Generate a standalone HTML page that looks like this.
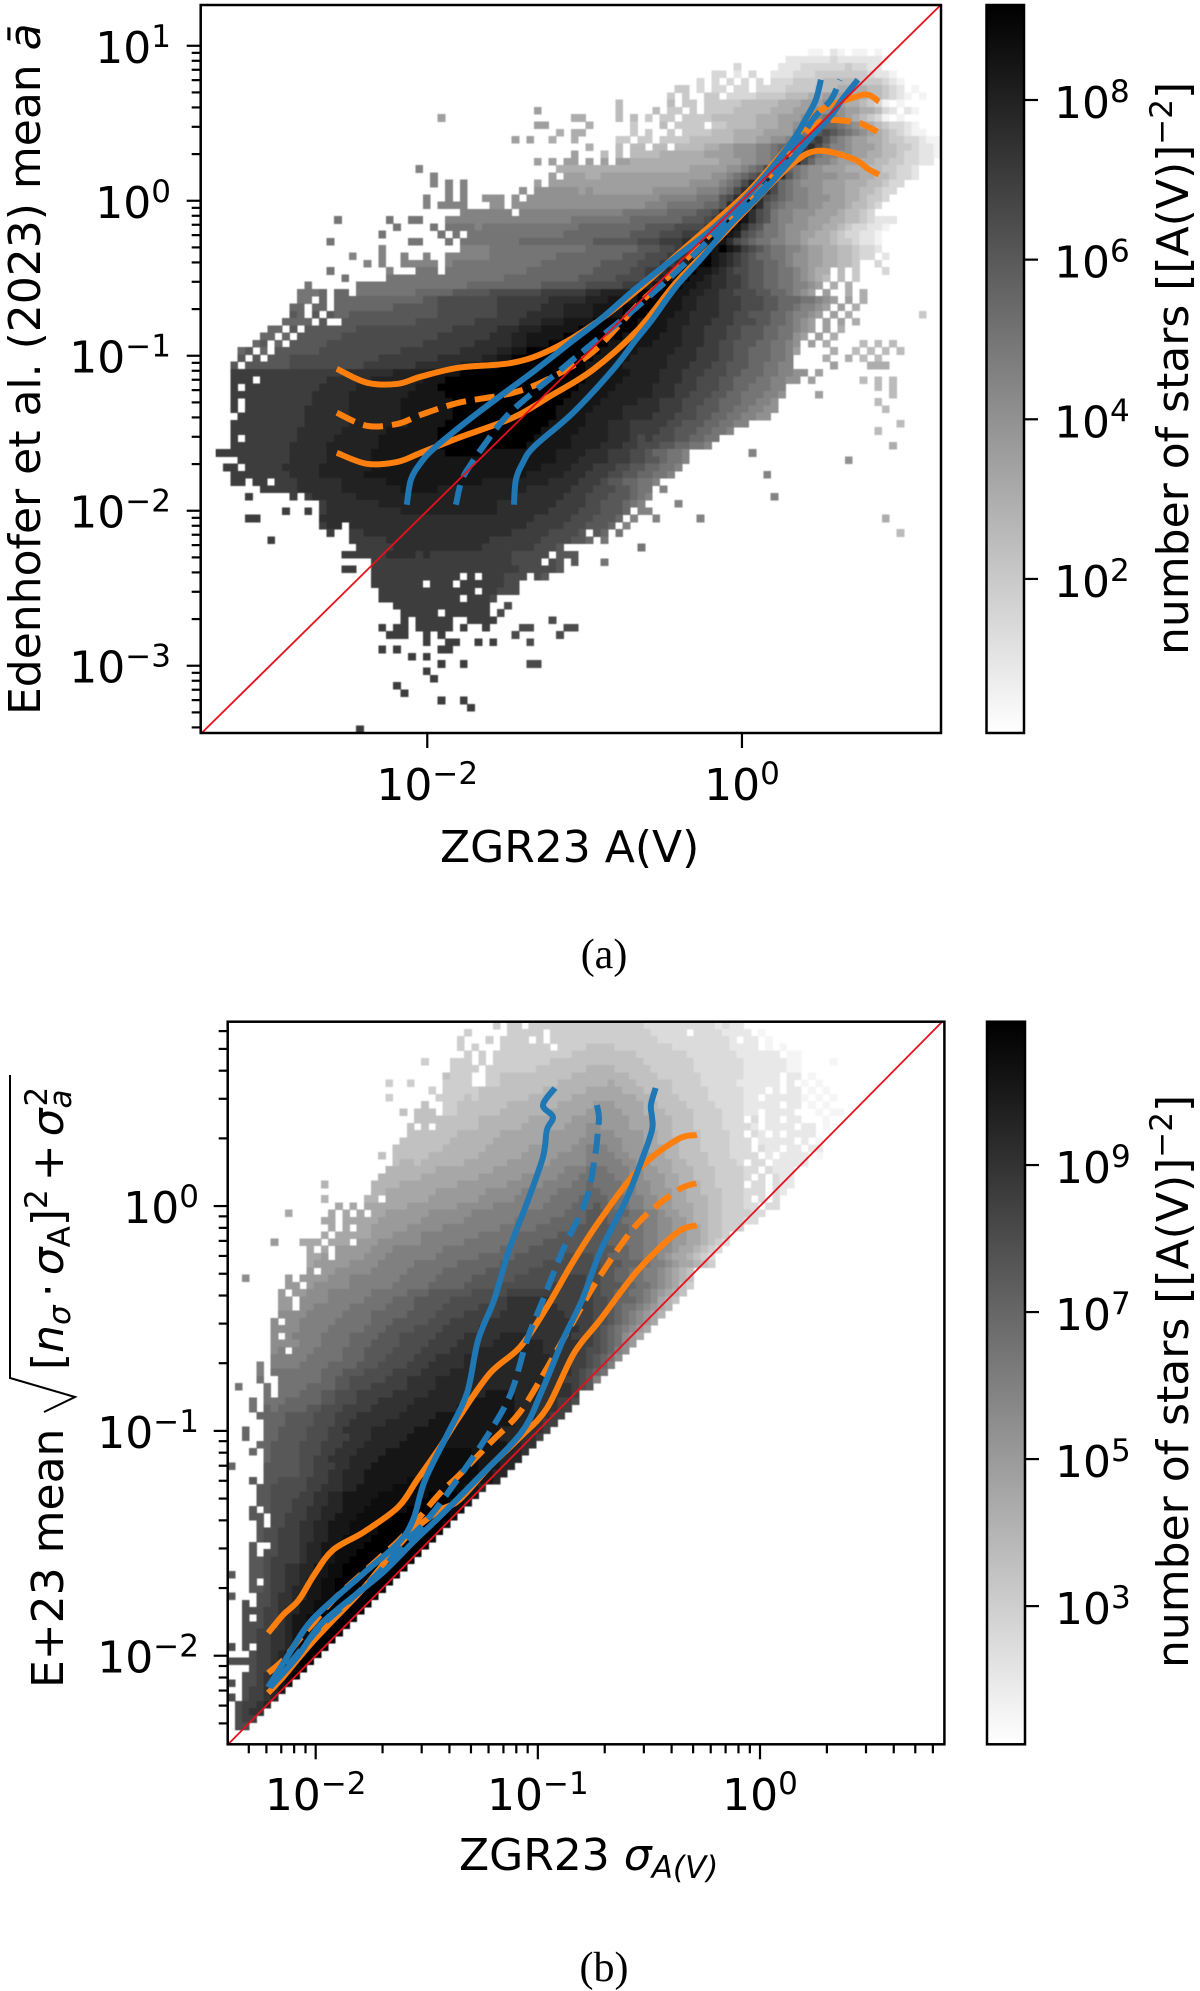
<!DOCTYPE html>
<html lang="en">
<head>
<meta charset="utf-8">
<title>ZGR23 versus Edenhofer et al. (2023) density maps</title>
<style>
html,body{margin:0;padding:0;background:#fff;}
svg{display:block;}
text{font-family:"DejaVu Sans",sans-serif;fill:#000;}
.cap{font-family:"Liberation Serif",serif;font-size:42px;}
</style>
</head>
<body>
<svg id="fig" xmlns="http://www.w3.org/2000/svg" width="1200" height="1991" viewBox="0 0 1200 1991">
<rect x="0" y="0" width="1200" height="1991" fill="#fff"/>
<defs>
<linearGradient id="grayr" x1="0" y1="0" x2="0" y2="1"><stop offset="0" stop-color="#000"/><stop offset="1" stop-color="#fff"/></linearGradient>
<filter id="soft" x="0" y="0" width="100%" height="100%"><feGaussianBlur stdDeviation="0.6"/></filter>
</defs>
<g id="panelA"></g>
<g id="panelB"></g>

<text x="440" y="862" font-size="44">ZGR23 A(V)</text>
<text transform="translate(40,715) rotate(-90)" font-size="44">Edenhofer et al. (2023) mean <tspan font-style="italic">ā</tspan></text>
<text transform="translate(1188,655) rotate(-90)" font-size="44">number of stars [[A(V)]<tspan dy="-16" font-size="31">−2</tspan><tspan dy="16">]</tspan></text>
<text class="cap" x="604" y="968" text-anchor="middle">(a)</text>

<text x="459" y="1870" font-size="44">ZGR23 <tspan font-style="italic">σ</tspan><tspan font-style="italic" font-size="31" dy="8">A(V)</tspan></text>
<g>
<text transform="translate(63,1688) rotate(-90)" font-size="44">E+23 mean</text>
<path d="M44 1412 L75 1397 L10 1378 L10 1075" fill="none" stroke="#000" stroke-width="2"/>
<text transform="translate(63,1370) rotate(-90)" font-size="44">[<tspan font-style="italic">n</tspan><tspan font-style="italic" font-size="31" dy="7">σ</tspan><tspan dy="-7" dx="8">·</tspan><tspan font-style="italic" dx="8">σ</tspan><tspan font-size="31" dy="7">A</tspan><tspan dy="-7">]</tspan><tspan font-size="31" dy="-16">2</tspan><tspan dy="16" dx="8">+</tspan><tspan font-style="italic" dx="8">σ</tspan><tspan font-style="italic" font-size="31" dy="8">a</tspan><tspan font-size="31" dy="-24" dx="-17">2</tspan></text>
</g>
<text transform="translate(1188,1668) rotate(-90)" font-size="44">number of stars [[A(V)]<tspan dy="-16" font-size="31">−2</tspan><tspan dy="16">]</tspan></text>
<text class="cap" x="604" y="1981" text-anchor="middle">(b)</text>
</svg>

<script>
// ---------- Panel (a) axis data (log10 units) ----------
const aXTickExps = [-2, 0];
const aYTickExps = [-3, -2, -1, 0, 1];
const aColorbarTickExps = [2, 4, 6, 8];
const aXLim = [-3.44, 1.265];
const aYLim = [-3.434, 1.263];
const aColorLim = [0.07, 9.19];
const aLevelBase = 0;

// Heatmap (a): [row, startColumn, levels]; level = base-36 digit, half-dex steps of density; '.' = empty bin
const aHeatRows = [
[6,80,"..11.21.11|.1"],
[7,70,".........2|2222232222|221"],
[8,70,"..3.....22|2333333433|22"],
[9,60,".........3|3.2.3..222|3334444444|3221"],
[10,60,".......3.3|.3.3.3.333|4444555554|44321"],
[11,60,"....44.3.3|3.33.33334|4445556666|55432.1"],
[12,60,"...4.4..44|.333344445|5566777766|554321.1"],
[13,50,"......5...|...5.44.44|4445555566|6777877665|431.1"],
[14,40,".....7....|......5...|.5.44.4.44|4455555666|7778888776|6532.21"],
[15,30,"..7.......|..........|66....5.5.|4.44.44445|5555566677|7889a98765|431.1"],
[16,40,".....77...|..6.....4.|..5.4444.4|4555566677|8aabbba987|6543321"],
[17,40,"........6.|66......4.|4..4.44445|5566667777|9abcdcba98|76543211"],
[18,40,"..7.7..6..|6.....44.4|4.44445555|5566677889|abdeca9877|6654433211"],
[19,50,"..6...5.55|.55.555566|7788899abc|defdb99877|7655443221"],
[20,50,"7...5.5.55|5566666677|7788899abd|feca998877|6655433221"],
[21,40,".....7.7.7|7.7.7.7766|6666666666|7778899acf|gdb9987776|655443322."],
[22,20,".........9|..........|........66|6666666666|6666667777|7889abdgeb|a988777666|5544332"],
[23,30,".9........|.......7.7|7766777777|7777777778|89abcdfhfc|a988887776|6554332"],
[24,30,".9.9.9....|.....7.777|7777777777|7777778888|9abdfhgdba|9888777666|55433"],
[25,30,"...9.9....|...8.88888|8787777777|7888888999|abdfhhfdba|9988777665|5433"],
[26,30,"9..9.9..88|8.8.888888|8888888888|8899999aaa|cdfhifdcba|9988877665|443"],
[27,30,"9.9999...8|8.88888888|8888888888|999aaaaabb|cfhihfcba9|9988777655|43"],
[28,30,".....99999|99.9999999|9999999aaa|aaabbbbccd|fhihfdca99|8887776554|3"],
[29,10,"........a.|.....a..aa|...9999999|9999999999|aaaaaaaabb|bbbbbcccde|fhihfdca99|8877766554|3222"],
[30,20,"......a...|.a.aaaa9aa|aaaaaaaaaa|abbbbbbbbb|ccccddddef|hihfdcaa98|8877665433|221"],
[31,20,"....a.....|..a.a.aaaa|aaaaaaaaab|bbbbbbbbcc|ccdddeeefh|ihgdcbaa98|8776654332|21"],
[32,10,".......a..|........aa|...a.aaaaa|aaabbbbbbb|bbbccccccd|ddeeeffghi|hfdcbaa998|8766654432|21"],
[33,20,"....9.....|.....9999a|aaaaaaaaaa|aabbbbbbbc|ccddeeefgh|ihgedcbaa9|9877665543|32"],
[34,20,"9...9..9..|9..999999a|aaaaaaaabb|bbbbbbbccc|dddeefghih|gfedcbbaa9|8877665543|3.2"],
[35,20,"..9.9..999|99.9aaaaaa|aaaaaabbbb|bbbbcccccd|ddeefghiih|gfedccbba9|887766554.|.3"],
[36,10,".......a..|.....9...a|aa.aaaaaaa|aaaabbbbbb|bbbcccccdd|eefghiihhg|feddccbbaa|98766.5.4.|..3"],
[37,10,".........a|.....aaaaa|aaaaaaaaaa|abbbbbbbbb|bcccccdddd|efghiihhgf|feedccbbaa|98765.5.4."],
[38,10,"....a.....|.aaaaaaaaa|aaaaaabbbb|bbbbbbcccc|ccdddddeef|ghiiihhggf|feedccbbaa|9987.6.6"],
[39,10,"...aaab.bb|.aaaaaaaab|bbbbcccccd|ddddddeeee|eeffgggghi|iiihhhggff|eedddccbba|987.7..6.6"],
[40,10,"...aa.b.bb|bbbbbbbbbb|ccdddddddd|eeeeeeefff|ffggghhhhi|iiihhggfff|eeedddccbb|baa987.7.6"],
[41,10,"..bb.bb.bb|bbbbbbcccc|ccdddddddd|eeeeeefffg|ggghhhhiii|iihhhggfff|eeedddccbb|a9987.7.6"],
[42,10,"..cb.c.cbb|cccccccccc|ccdddddddd|eeeefffffg|ggghhhhiii|ihhhggffff|eeddcccbba|9987.7.6..|.......4"],
[43,10,".bbbb.c..c|cccccccccd|dddddddeee|eeefffgggh|hhhiiiiiih|hhhgggfffe|eedddccbba|987.7.7.6"],
[44,0,".........b|b.c.cccccc|cddddddddd|ddddeeeeee|fffggghhhh|hiiiiiiiih|hhhggfffee|eddcccbbaa|987.7.6"],
[45,0,"........bb|.b.ccccccd|dddddddddd|ddeeeeeeef|ffgghhhhhi|iiiiiiihhh|hhgggfffee|eddcccbbaa|87.7.6"],
[46,0,".......bc.|b.cccccddd|dddddddddd|eeeeeeefff|ffgghhhiii|iiiiihhhhh|hggggfffee|ddcccbbaa9|8.7.6....5|.5.5"],
[47,0,".....bc.b.|ccccccdddd|dddddddeee|eeeeefffff|gghhiiiiii|iiiihhhhhg|ggggfffeee|ddccbbbaa9|7....6..5.|5.5.5"],
[48,0,".....c.c.c|ccdddddddd|ddddeeeeee|eeffffffgg|hhiiiiiiii|iiihhhhhgg|gggffffeee|ddccbbbaa9|....6..6.5|.5"],
[49,0,"....c.cccc|ccdddddddd|ddeeeeeeef|fffffggghh|iiiiiiiiii|iihhhhhggg|gggfffeeed|dcccbbaa99|.....7....|666"],
[50,0,"....eeeeee|eeeeeeeeef|ffffffgggg|ghhhhiiiii|iiiiiiiiii|iihhhhhhgg|ggfffeeedd|dccbbbaa99|88.7"],
[51,0,"....eee.ee|eeeeeeefff|fffggggggg|hhhiiiiiii|iiiiiiiiii|iihhhhhggg|ggfffeeddd|ccbbbaa998|8.7......5|.5.5"],
[52,0,"....e.eeee|eeeeeeffff|fggggggggh|hhiiiiiiii|iiiiiiiiii|ihhhhhgggg|gfffeeeddd|ccbbaaa99.|..........|.5.5"],
[53,0,"....eeeeee|eeeeefffff|gggggggghh|hhhiiiiiii|iiiiiiiiii|hhhhhggggg|gfffeedddc|cbbaaa998.|...7......|...5"],
[54,0,"....e.eeee|eeeeefffff|ggggggghhh|hhhhiiiiii|iiiiiiiiih|hhhhgggggf|ffeeedddcc|bbbaa998..|..........|.5"],
[55,0,"....e.eeee|eeeeffffff|ggggggghhh|hhhhiiiiii|iiiiiiiihh|hhhggggfff|ffeeeddccc|bbaa9988..|..........|..5"],
[56,0,".....eeeee|eeeeffffff|ggggggghhh|hhhhiiiiii|iiiiiiiihh|hhgggggfff|feeedddccb|baa9988"],
[57,0,"....eeeeee|eeeeffffff|gggggggghh|hhhiiiiiii|iiiiiiihhh|hhgggfffee|eeeddcccbb|aa99......|..........|....5"],
[58,0,"....eeeeee|eeeffffffg|ggggghhhhh|hhiiiiiiii|iiiiiihhhh|hggggfffee|eeddcccbba|a9........|..........|.5"],
[59,0,"....e.eeee|eeefffffgg|gggghhhhhh|hhiiiiiiii|iiiiihhhhh|gggggfffed|edddccbbaa"],
[60,0,"....eeeeee|eefffffggg|gggghhhhhh|hhiiiiiiii|iiiihhhhhh|ggggfffeed|ddccbbaa9.|..........|..........|...6"],
[61,0,"..eeeeeeee|eefffffggg|ggghhhhhhh|hhhiiiiihh|hhhhhhhhgg|ggfffeeedd|cbbaa9....|....9"],
[62,0,".....eeeee|eefffffggg|ggghhhhhhh|hhhhhhhhhh|hhhhhhhhgg|gffffeeedd|ccbaa9....|..........|.......8"],
[63,0,"...ee.eeee|efffffgggg|ggghhhhhhh|hhhhhhhhhh|hhhhhhgggg|fffeeeddcc|bbaa9"],
[64,0,"....eeeeee|eeffffgggg|gghhhhhhhh|hhhhhhhhhh|hhhhgggggf|ffeeeddccb|baa9......|......9"],
[65,0,"....ee.ee.|eeeffffffg|ggggghhhhh|hhhhhhhhgg|gggggggfff|feeedccbba|a9"],
[66,0,"........ee|eeeffffffg|ggggggghhh|hhgggggggg|ggggffffff|eeedddccba|a.9"],
[67,0,"......e...|..e.efffff|fggggggggg|gggggggggg|ggfffffffe|eedddcccba|9.........|.......9"],
[68,10,"......efff|ffffgggggg|gggggggggg|ffffffffee|eeddcccba9|....9"],
[69,10,".e..e.efff|fffffffggg|gggggggggg|fffffffeee|edddcccb.9|9"],
[70,0,"......ee..|......ffff|ffffffffff|ffffffffff|fffffeeeee|dddcccb.9.|.9.....9..|..........|..........|..6"],
[71,10,"......eff.|ffffffffff|ffffffffff|ffffeeeeed|ddcccb.9"],
[72,10,".......e..|eeffffffff|ffffffffff|ffeeeeeddd|dc.cb.a...|..........|..........|..........|....5"],
[73,0,".........e|..........|eeeeefffff|fffffffffe|eeeeeedddd|ccb.a"],
[74,20,".eeeeeffff|ffffffffee|eeeeedddc.|.........a"],
[75,10,".........e|eeeeeffffe|feeeeeeeee|eeddddd.cc|c"],
[76,20,"...eeeeeee|eeeeeeeeee|eedddd.dc.|c...a"],
[77,10,".........e|e..eeeeeee|eeeeeeeeee|eeedddddc"],
[78,20,"...eeeeeee|eeeee.e.ee|eddd.dc"],
[79,20,"...eeeeeee|.eee.eeeee|edd"],
[80,20,"....eeeeee|eeeeeee.ee|ddd"],
[81,20,"....eeeeee|eeeee.eeed"],
[82,20,"......eeee|eeeeeeeee.|.d"],
[83,20,".......eee|ee.eeeeee.|d"],
[84,20,".......e.e|eeee..eeee|.......d"],
[85,20,"....e.ee.e|eeee.e..e.|...dd....d|d"],
[86,20,".....eee..|e.e.......|..d.....d"],
[87,30,"e..ee..e.e|....d"],
[88,20,"....e.e...|..ee"],
[89,20,"........e.|e"],
[90,30,"..e..e....|....dd"],
[91,30,"e"],
[92,30,".e"],
[93,20,"......e"],
[94,20,".......e"],
[95,30,"..e..e"],
[96,30,"......e"],
[99,20,".e"]
];

// Orange curves (a): binned in x, log10 values
const aOrangeX = [-2.575,-2.384,-2.187,-2.041,-1.799,-1.456,-1.214,-0.947,-0.661,-0.420,-0.172,0.070,0.312,0.483,0.706,0.801,0.871];
const aOrangeUpper = [-1.084,-1.174,-1.181,-1.135,-1.077,-1.045,-0.961,-0.800,-0.574,-0.355,-0.135,0.090,0.374,0.574,0.665,0.684,0.639];
const aOrangeMedian = [-1.368,-1.452,-1.439,-1.381,-1.303,-1.239,-1.142,-0.974,-0.671,-0.445,-0.187,0.026,0.316,0.503,0.510,0.477,0.439];
const aOrangeLower = [-1.626,-1.697,-1.684,-1.626,-1.529,-1.400,-1.258,-1.090,-0.832,-0.529,-0.271,-0.013,0.232,0.323,0.271,0.206,0.168];
// Blue curves (a): binned in y, log10 values
const aBlueY = [-1.961,-1.800,-1.690,-1.587,-1.368,-1.090,-0.897,-0.768,-0.555,-0.361,-0.168,0.071,0.374,0.542,0.652,0.781];
const aBlueLeft = [-2.130,-2.104,-2.041,-1.945,-1.678,-1.310,-1.068,-0.903,-0.661,-0.416,-0.172,0.070,0.312,0.413,0.470,0.502];
const aBlueMedian = [-1.818,-1.780,-1.716,-1.646,-1.475,-1.151,-0.922,-0.763,-0.521,-0.318,-0.127,0.127,0.350,0.464,0.566,0.623];
const aBlueRight = [-1.449,-1.437,-1.392,-1.322,-1.074,-0.820,-0.674,-0.572,-0.420,-0.248,-0.089,0.146,0.407,0.559,0.636,0.737];

// ---------- Panel (b) axis data (log10 units) ----------
const bXTickExps = [-2, -1, 0];
const bYTickExps = [-2, -1, 0];
const bColorbarTickExps = [3, 5, 7, 9];
const bXLim = [-2.396, 0.83];
const bYLim = [-2.394, 0.82];
const bColorLim = [1.12, 10.95];
const bLevelBase = 1;

const bHeatRows = [
[0,30,".......4.4|4.44444444|4444444433|3333333323|22"],
[1,30,"...4.....4|4444.44444|4444444443|3333.33332|222.1"],
[2,30,"..4...4.44|44.4.44444|4444444444|3333333333|2.22.1"],
[3,30,"..4.4...44|44444.4444|5555444444|4433333333|2222.1.1"],
[4,30,"...4.4.444|4444444455|5555555444|4444333333|3222222.11"],
[5,20,".......4..|.444.4.444|4444455555|5555555544|4444433333|3322222211|....1"],
[6,30,".4444.4444|4445555555|6666555554|4444433333|3322222211"],
[7,30,"5444..4455|5555555566|6666665555|4444443333|3322222.22|.1"],
[8,20,"..4..4....|4444..4455|5555556666|6667666555|5544443333|3222222.2.|1.1"],
[9,20,"........4.|4444455555|5555666666|7777766655|5544444333|33222.2.22|.1.1"],
[10,20,"..4......4|4445455555|5566666677|7777777665|5554444333|3322.22222|1.1.1"],
[11,20,".......5..|4455555556|6666667777|7888777766|5555444433|3322222.22|.1.1"],
[12,20,"....5.555.|4455555566|6666677777|8888877766|6555544443|3322.2222.|..1.11"],
[13,20,"......5555|5555566666|6677777788|8888887776|6655544443|33.3.22.22|...1"],
[14,20,".....5.5.5|5555566666|6777777888|9988887776|6655544443|3332.2222.|22.1"],
[15,20,".....55555|5566666677|7777788888|9999888877|6655554444|33.32.2.22|22"],
[16,20,"....555555|5666666777|7777888889|9999988877|6665554444|333.22222.|2.1"],
[17,20,"...5555555|6666667777|7788888899|aaa9988877|7665554444|333.322.22|.22"],
[18,20,".5.5555566|6666677777|7888889999|aaaa998887|7665555444|3333.2.222|2.1"],
[19,20,"...5665666|6667777778|8888899999|aaaaa99887|7766555444|43.33.2222|2"],
[20,20,"..66666667|7777777888|8889999aaa|bbbaaa9988|7766655544|4433.3222"],
[21,20,".666666777|7777788888|899999aaab|bbbbaa9988|8776655544|443.3.322"],
[22,10,"...6......|6666777777|7788888889|9999aaaabb|cbbbbaa998|8776665544|44.33.322"],
[23,20,"6677777778|8888889999|9aaaaabbbb|ccbbbaa998|8877665554|44333.32"],
[24,10,"...6.....6|6.77777788|8888899999|aaaaabbbbc|cccbbbaa99|8877666554|443.3.3"],
[25,10,".....7.7.7|7777788888|8899999aaa|aaaabbbbcc|cdccbbaa99|8877766554|4433.33"],
[26,0,"........7.|....7.7.7.|7788888899|9999aaaaaa|abbbbbbccc|dddcccbbaa|9887766554|44433"],
[27,10,"...77.7777|7888888999|999aaaaaaa|bbbbbccccc|dddccbbbaa|9988766554|4433"],
[28,10,"....7.7.77|8888899999|aaaaaaaabb|bbbcccccdd|ddddccbbaa|9988776554|44"],
[29,10,"...7.77777|8889999aaa|aaaaabbbbb|ccccccdddd|dddcccbbaa|9988776554"],
[30,0,"......8...|777.777.88|8999999aaa|aaabbbbbbb|ccccdddddd|dddccbbbaa|9988776543"],
[31,10,".7.7.88888|999aaaaaaa|bbbbbbbbcc|ccdddddddd|ddddccbbaa|998776543"],
[32,10,".778.88889|99aaaaaaab|bbbbbccccc|dddddddeee|eddcccbbaa|98776543"],
[33,10,".788888999|9aaaaabbbb|bbccccccdd|ddddeeeeee|eedddcccba|a9877654"],
[34,10,".8.8899999|aaaaabbbbb|ccccccdddd|ddeeeeeeee|eeddccbbaa|98765"],
[35,0,"..9.....8.|8888999aaa|aaaabbbbbc|ccccdddddd|eeeeeeefff|eeddccbbaa|98765"],
[36,0,"........88|.899999aaa|aaabbbbbcc|cccdddddee|eeeeefffff|eedddccbba|98754"],
[37,0,".......8.8|8999aaaaaa|bbbbbcccdd|ddddeeeeef|ffffffffff|feddccbba9|8765"],
[38,0,".......88.|9999aaaaab|bbbcccdddd|deeeeeeffg|gggggfffff|feedcccba9|765"],
[39,0,".......88.|99aaaaabbb|bbccccdddd|eeeeeffffg|ggggggffff|feedcbba98|76"],
[40,0,".......999|9aaaaabbbb|cccccdddde|eeefffffgg|gggggggfff|feedcba987|6"],
[41,0,"......9.99|aaaaabbbbb|cccdddddee|efffffgggg|ggggggggff|feedcba987"],
[42,0,"......9999|aaaabbbbbc|ccddddeeee|fffffggggg|gggggggggf|fedcba987"],
[43,0,"......9.9a|aaabbbbccc|cdddeeeeef|fffggggghh|hhggggggff|fedcb987"],
[44,0,"......9999|aaabbbbccc|ddddeeeeff|ffggggghhh|hhhhgggggf|fedcb98"],
[45,0,"......9a.a|aabbbbcccd|dddeeeefff|fgggghhhhh|hhhhgggggf|eedca9"],
[46,0,"......aaaa|abbbbbcccd|ddeeeefffg|ggghhhhhhh|hhhhhgggff|edcb9"],
[47,0,"....a.aaaa|bbbbccccdd|deeeefffgg|ggghhhhhhh|hhhhhgggff|edca"],
[48,0,"....a.bbbb|bbbcccddde|eeeffffggg|ghhhhhhhhh|hhhhggggfe|dcb"],
[49,0,"....b..bbb|bbbccddeee|eefffggggh|hhhhhhhhhh|hhhhgggffe|da"],
[50,0,".b...b.bbb|bccccddeee|fffffggggh|hhhhhhhhhh|hhhhggggfe|d"],
[51,0,".....b.bbb|cccddeeeff|fffggggghh|hhhhhhiiii|hhhhggggf"],
[52,0,"...b.bbbcc|cccddeeeff|fggggghhhh|hhhhiiiiii|hhhgggffe"],
[53,0,"...b.cbccc|cddeeeffff|ggggghhhhh|hhiiiiiiii|hhhgggff"],
[54,0,"....ccccdd|ddeeefffgg|gggghhhhhi|iiiiiiiiii|hhhggff"],
[55,0,".....cccdd|ddeeeffggg|gghhhhhhii|iiiiiiiiii|hhhgff"],
[56,0,"..c..ccddd|deeeffgggg|hhhhhhiiii|iiiiiiiihh|hhggf"],
[57,0,"..c..ccddd|deeefffggg|hhhhhiiiii|iiiiiiiihh|hggf"],
[58,0,"....ccdddd|eeefffgggh|hhhhiiiiii|iiiiiiiiih|hgg"],
[59,0,"...c.cdddd|eeeffggghh|hhiiiiiiii|jjjjiiiiih|hg"],
[60,0,".....cdddd|eeffggghhh|hiiiiiiiij|jjjjjiiihh|h"],
[61,0,"c....ddddd|eefffgghhh|iiiiiiiijj|jjjjjiiihh"],
[62,0,".....ddddd|eeffgghhhi|iiiiiiijjj|jjjjjiihh"],
[63,0,"...d.ddeee|efffgghhhi|iiiiijjjjj|jjjjiiih"],
[64,0,"....ddeeee|effggghhii|iiijjjjjjj|jjjiih"],
[65,0,"....ddeeee|ffgghhiiii|ijjjjjjjkk|kkjii"],
[66,0,"....ddeeef|ffgghhiiii|jjjjjjjkkk|kjji"],
[67,0,"...d.deeef|fgghhhiiij|jjjjjkkkkk|kjj"],
[68,0,"...dd.eeff|fgghhiiijj|jjjkkkkkkk|kj"],
[69,0,"....d.eeff|gghhiiijjj|jkkkkkkkkk|j"],
[70,0,"....deefff|gghhiiijjj|jkkkkkkkkk"],
[71,0,"....deefff|gghhiijjjj|kkkkkkkkk"],
[72,0,"...d..efff|ghhiiijjjk|kkkkkkkk"],
[73,0,"...d.eefff|ghhiijjjkk|kkkkkkk"],
[74,0,"...ddeffff|ghhiijjkkk|kkkkkk"],
[75,0,"...ddeffgg|hhiijjkkkk|kkkkk"],
[76,0,"d..ddeffgg|hhiijjkkkk|kkkk"],
[77,0,"...d.effgg|hiijjkkkkk|kkk"],
[78,0,"...ddeffgh|hiijjkkkkk|kk"],
[79,0,"d...eefggh|hiijjkkkkk|k"],
[80,0,"..e.eefggh|iijjkkkkkk"],
[81,0,"..eeeffghh|iijjkkkkk"],
[82,0,"..e.effghi|ijjkkkkk"],
[83,0,"..eeeffghi|ijjkkkk"],
[84,0,"..eeffgghi|ijkkkk"],
[85,0,"..eeffgghi|jjkkk"],
[86,0,"e.e.ffgghi|jkkk"],
[87,0,"...effghij|jkk"],
[88,0,"eeeeffghij|kk"],
[89,0,"...effghij|k"],
[90,0,"..eefghijk"],
[91,0,"e.eefghij"],
[92,0,"..effghi"],
[93,0,"e.effgh"],
[94,0,".effgh"],
[95,0,".efgg"],
[96,0,".eff"],
[97,0,".ee"]
];

const bOrangeX = [-2.214,-2.147,-2.077,-2.007,-1.922,-1.784,-1.629,-1.544,-1.440,-1.355,-1.215,-1.080,-0.959,-0.837,-0.720,-0.549,-0.376,-0.284];
const bOrangeUpper = [-1.899,-1.819,-1.753,-1.641,-1.530,-1.450,-1.339,-1.219,-1.072,-0.939,-0.743,-0.627,-0.449,-0.240,-0.062,0.160,0.294,0.316];
const bOrangeMedian = [-2.077,-2.020,-1.931,-1.851,-1.753,-1.628,-1.490,-1.397,-1.277,-1.197,-1.054,-0.916,-0.721,-0.507,-0.311,-0.076,0.067,0.102];
const bOrangeLower = [-2.166,-2.095,-2.011,-1.931,-1.842,-1.699,-1.512,-1.428,-1.352,-1.308,-1.157,-1.028,-0.899,-0.654,-0.507,-0.285,-0.120,-0.085];
const bBlueY = [0.525,0.449,0.396,0.338,0.218,0.027,-0.196,-0.418,-0.596,-0.832,-1.010,-1.219,-1.397,-1.499,-1.633,-1.784,-1.873,-2.006,-2.140];
const bBlueLeft = [-0.923,-0.977,-0.932,-0.959,-0.977,-1.044,-1.130,-1.197,-1.269,-1.319,-1.404,-1.508,-1.562,-1.629,-1.784,-1.958,-2.043,-2.129,-2.214];
const bBlueMedianY = [0.449,0.396,0.338,0.218,0.027,-0.196,-0.418,-0.596,-0.832,-1.010,-1.219,-1.397,-1.499,-1.633,-1.784,-1.873,-2.006,-2.140];
const bBlueMedian = [-0.734,-0.725,-0.729,-0.743,-0.783,-0.887,-0.977,-1.049,-1.121,-1.220,-1.364,-1.499,-1.602,-1.719,-1.881,-1.980,-2.093,-2.205];
const bBlueRight = [-0.470,-0.491,-0.486,-0.486,-0.527,-0.603,-0.716,-0.801,-0.887,-0.986,-1.076,-1.278,-1.458,-1.566,-1.701,-1.890,-1.989,-2.084,-2.205];

const minorMultiples = [2,3,4,5,6,7,8,9];
const NS = 'http://www.w3.org/2000/svg';
const ORANGE = '#ff7f0e', BLUE = '#1f77b4', RED = '#e8101c';

function mk(parent, tag, attrs){
  const el = document.createElementNS(NS, tag);
  for (const k in attrs) el.setAttribute(k, attrs[k]);
  parent.appendChild(el);
  return el;
}
function smoothPath(px, py){
  let d = 'M'+px[0].toFixed(1)+' '+py[0].toFixed(1);
  for (let i=0;i<px.length-1;i++){
    const i0=Math.max(0,i-1), i3=Math.min(px.length-1,i+2);
    const c1x=px[i]+(px[i+1]-px[i0])/6, c1y=py[i]+(py[i+1]-py[i0])/6;
    const c2x=px[i+1]-(px[i3]-px[i])/6, c2y=py[i+1]-(py[i3]-py[i])/6;
    d+=' C'+c1x.toFixed(1)+' '+c1y.toFixed(1)+' '+c2x.toFixed(1)+' '+c2y.toFixed(1)+' '+px[i+1].toFixed(1)+' '+py[i+1].toFixed(1);
  }
  return d;
}
function lineMark(parent, xs, ys, sx, sy, color, dashed, name){
  const el = mk(parent,'path',{d:smoothPath(xs.map(sx),ys.map(sy)),fill:'none',stroke:color,'stroke-width':6,'stroke-linejoin':'round'});
  if (dashed) el.setAttribute('stroke-dasharray','20 9');
  
  
  return el;
}
function expLabel(parent, x, y, anchor, exp, name){
  const t = mk(parent,'text',{x:x,y:y,'text-anchor':anchor,'font-size':44});
  t.appendChild(document.createTextNode('10'));
  const s = mk(t,'tspan',{dy:-16,'font-size':31});
  s.textContent = String(exp).replace('-','\u2212');
  
  
  return t;
}

function drawPanel(p){
  const root = document.getElementById(p.id);
  const L=p.box[0], T=p.box[1], R=p.box[2], B=p.box[3];
  const sx = v => L + (v-p.xLim[0])/(p.xLim[1]-p.xLim[0])*(R-L);
  const sy = v => B - (v-p.yLim[0])/(p.yLim[1]-p.yLim[0])*(B-T);
  const cw=(R-L)/100, ch=(B-T)/100;
  const span=p.cLim[1]-p.cLim[0];

  const heat = mk(root,'g',{'shape-rendering':'crispEdges',filter:'url(#soft)'});
  
  
  p.rows.forEach(rowSpec=>{
    const levels = rowSpec[2].replace(/\|/g,'');
    for (let i=0;i<levels.length;i++){
      const c = levels[i];
      if (c==='.') continue;
      const col = rowSpec[1]+i;
      const logD = p.base + parseInt(c,36)*0.5;
      const d = Math.max(0,Math.min(1,(logD-p.cLim[0])/span));
      const g = Math.round(255*(1-d));
      const x0 = sx(p.xLim[0]+(col/100)*(p.xLim[1]-p.xLim[0]));
      const y0 = T+rowSpec[0]*ch;
      const cell = mk(heat,'rect',{x:x0.toFixed(2),y:y0.toFixed(2),width:(cw+0.4).toFixed(2),height:(ch+0.4).toFixed(2),fill:'rgb('+g+','+g+','+g+')'});
      
      
    }
  });

  p.series.forEach(s=>{
    lineMark(root, s.x, s.y, sx, sy, s.color, s.dashed, p.tag+'-'+s.name);
  });

  const ref = mk(root,'line',{x1:sx(Math.max(p.xLim[0],p.yLim[0])),y1:sy(Math.max(p.xLim[0],p.yLim[0])),x2:sx(Math.min(p.xLim[1],p.yLim[1])),y2:sy(Math.min(p.xLim[1],p.yLim[1])),stroke:RED,'stroke-width':1.8});
  
  

  const frame = mk(root,'rect',{x:L,y:T,width:R-L,height:B-T,fill:'none',stroke:'#000','stroke-width':2.5});
  
  

  const ticks = mk(root,'g',{stroke:'#000','stroke-width':2.2});
  
  
  p.xTicks.forEach(e=>{
    const tick = mk(ticks,'line',{x1:sx(e),x2:sx(e),y1:B,y2:B+15});
    
    
    expLabel(root, sx(e), p.xLabelY, 'middle', e, p.tag+'-x-tick-label');
  });
  p.yTicks.forEach(e=>{
    const tick = mk(ticks,'line',{x1:L-14,x2:L,y1:sy(e),y2:sy(e)});
    
    
    expLabel(root, p.yLabelX, sy(e)+17, 'end', e, p.tag+'-y-tick-label');
  });
  p.xMinorDecades.forEach(dec=>minorMultiples.forEach(m=>{
    const v=dec+Math.log10(m);
    if (v<p.xLim[0]||v>p.xLim[1]) return;
    const tick = mk(ticks,'line',{x1:sx(v),x2:sx(v),y1:B,y2:B+9});
    
    
  }));
  p.yMinorDecades.forEach(dec=>minorMultiples.forEach(m=>{
    const v=dec+Math.log10(m);
    if (v<p.yLim[0]||v>p.yLim[1]) return;
    const tick = mk(ticks,'line',{x1:L-9,x2:L,y1:sy(v),y2:sy(v)});
    
    
  }));

  const cb=p.cbar;
  const cbar = mk(root,'rect',{x:cb[0],y:T,width:cb[1]-cb[0],height:B-T,fill:'url(#grayr)',stroke:'#000','stroke-width':2.5});
  
  
  const cy = v => B-(v-p.cLim[0])/span*(B-T);
  p.cTicks.forEach(e=>{
    const tick = mk(root,'line',{x1:cb[1],x2:cb[1]+14,y1:cy(e),y2:cy(e),stroke:'#000','stroke-width':2.2});
    
    
    expLabel(root, cb[1]+30, cy(e)+18, 'start', e, p.tag+'-colorbar-tick-label');
  });
}

drawPanel({
  id:'panelA',tag:'panel-a',box:[200.7,5,941,733],xLim:aXLim,yLim:aYLim,cLim:aColorLim,base:aLevelBase,rows:aHeatRows,
  xTicks:aXTickExps,yTicks:aYTickExps,cTicks:aColorbarTickExps,xMinorDecades:[],yMinorDecades:[-4,-3,-2,-1,0,1],
  xLabelY:800,yLabelX:171,cbar:[986.5,1024],
  series:[
    {name:'orange-upper',x:aOrangeX,y:aOrangeUpper,color:ORANGE},
    {name:'orange-median',x:aOrangeX,y:aOrangeMedian,color:ORANGE,dashed:true},
    {name:'orange-lower',x:aOrangeX,y:aOrangeLower,color:ORANGE},
    {name:'blue-left',x:aBlueLeft,y:aBlueY,color:BLUE},
    {name:'blue-median',x:aBlueMedian,y:aBlueY,color:BLUE,dashed:true},
    {name:'blue-right',x:aBlueRight,y:aBlueY,color:BLUE}
  ]
});
drawPanel({
  id:'panelB',tag:'panel-b',box:[227.7,1021.7,944.4,1744.3],xLim:bXLim,yLim:bYLim,cLim:bColorLim,base:bLevelBase,rows:bHeatRows,
  xTicks:bXTickExps,yTicks:bYTickExps,cTicks:bColorbarTickExps,xMinorDecades:[-3,-2,-1,0],yMinorDecades:[-3,-2,-1,0],
  xLabelY:1810,yLabelX:199,cbar:[987,1025],
  series:[
    {name:'orange-upper',x:bOrangeX,y:bOrangeUpper,color:ORANGE},
    {name:'orange-median',x:bOrangeX,y:bOrangeMedian,color:ORANGE,dashed:true},
    {name:'orange-lower',x:bOrangeX,y:bOrangeLower,color:ORANGE},
    {name:'blue-left',x:bBlueLeft,y:bBlueY,color:BLUE},
    {name:'blue-median',x:bBlueMedian,y:bBlueMedianY,color:BLUE,dashed:true},
    {name:'blue-right',x:bBlueRight,y:bBlueY,color:BLUE}
  ]
});
</script>
</body>
</html>
